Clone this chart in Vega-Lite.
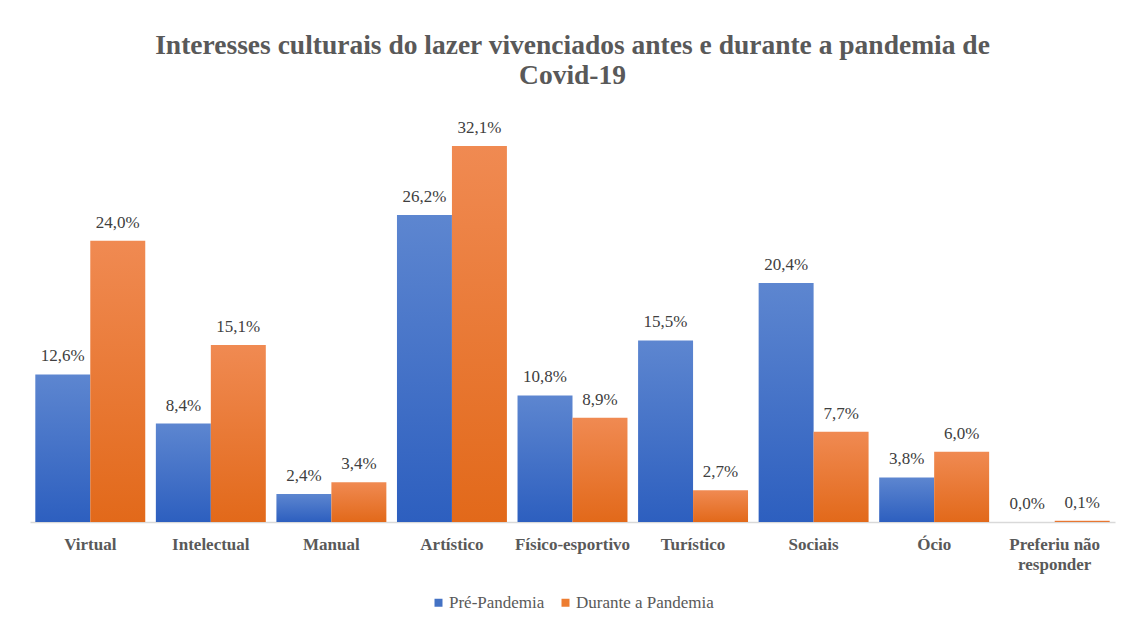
{
  "$schema": "https://vega.github.io/schema/vega-lite/v6.json",
  "width": 1085,
  "height": 410,
  "autosize": {"type": "none"},
  "padding": {"left": 30, "top": 112, "right": 13, "bottom": 99},
  "background": "white",
  "config": {
    "view": {"stroke": null},
    "font": "Liberation Serif",
    "locale": {"number": {"decimal": ",", "thousands": ".", "grouping": [3], "currency": ["R$", ""]}}
  },
  "title": {
    "text": ["Interesses culturais do lazer vivenciados antes e durante a pandemia de", "Covid-19"],
    "font": "Liberation Serif",
    "fontSize": 27.5,
    "fontWeight": "bold",
    "color": "#595959",
    "anchor": "middle",
    "lineHeight": 30,
    "offset": 23
  },
  "data": {
    "values": [
      {"categoria": "Virtual", "serie": "Pré-Pandemia", "valor": 0.126},
      {"categoria": "Virtual", "serie": "Durante a Pandemia", "valor": 0.240},
      {"categoria": "Intelectual", "serie": "Pré-Pandemia", "valor": 0.084},
      {"categoria": "Intelectual", "serie": "Durante a Pandemia", "valor": 0.151},
      {"categoria": "Manual", "serie": "Pré-Pandemia", "valor": 0.024},
      {"categoria": "Manual", "serie": "Durante a Pandemia", "valor": 0.034},
      {"categoria": "Artístico", "serie": "Pré-Pandemia", "valor": 0.262},
      {"categoria": "Artístico", "serie": "Durante a Pandemia", "valor": 0.321},
      {"categoria": "Físico-esportivo", "serie": "Pré-Pandemia", "valor": 0.108},
      {"categoria": "Físico-esportivo", "serie": "Durante a Pandemia", "valor": 0.089},
      {"categoria": "Turístico", "serie": "Pré-Pandemia", "valor": 0.155},
      {"categoria": "Turístico", "serie": "Durante a Pandemia", "valor": 0.027},
      {"categoria": "Sociais", "serie": "Pré-Pandemia", "valor": 0.204},
      {"categoria": "Sociais", "serie": "Durante a Pandemia", "valor": 0.077},
      {"categoria": "Ócio", "serie": "Pré-Pandemia", "valor": 0.038},
      {"categoria": "Ócio", "serie": "Durante a Pandemia", "valor": 0.060},
      {"categoria": "Preferiu não responder", "serie": "Pré-Pandemia", "valor": 0.0},
      {"categoria": "Preferiu não responder", "serie": "Durante a Pandemia", "valor": 0.001}
    ]
  },
  "encoding": {
    "x": {
      "field": "categoria",
      "type": "nominal",
      "sort": null,
      "scale": {"paddingInner": 0.088, "paddingOuter": 0.044},
      "axis": {
        "title": null,
        "labelAngle": 0,
        "ticks": false,
        "domainColor": "#d9d9d9",
        "domainWidth": 1.5,
        "labelFont": "Liberation Serif",
        "labelFontSize": 17,
        "labelFontWeight": "bold",
        "labelColor": "#595959",
        "labelPadding": 14,
        "labelLineHeight": 20,
        "labelExpr": "datum.value == 'Preferiu não responder' ? ['Preferiu não', 'responder'] : datum.value"
      }
    },
    "xOffset": {
      "field": "serie",
      "type": "nominal",
      "scale": {"domain": ["Pré-Pandemia", "Durante a Pandemia"], "paddingInner": 0, "paddingOuter": 0}
    },
    "y": {
      "field": "valor",
      "type": "quantitative",
      "scale": {"domain": [0, 0.35], "nice": false},
      "axis": null
    }
  },
  "layer": [
    {
      "transform": [{"filter": "datum.serie == 'Pré-Pandemia'"}],
      "mark": {
        "type": "bar",
        "color": {
          "gradient": "linear", "x1": 0, "y1": 0, "x2": 0, "y2": 1,
          "stops": [{"offset": 0, "color": "#5d86d0"}, {"offset": 1, "color": "#2d5fbf"}]
        }
      }
    },
    {
      "transform": [{"filter": "datum.serie == 'Durante a Pandemia'"}],
      "mark": {
        "type": "bar",
        "color": {
          "gradient": "linear", "x1": 0, "y1": 0, "x2": 0, "y2": 1,
          "stops": [{"offset": 0, "color": "#f08a52"}, {"offset": 1, "color": "#e2691a"}]
        }
      }
    },
    {
      "mark": {
        "type": "text",
        "font": "Liberation Serif",
        "fontSize": 17,
        "color": "#404040",
        "baseline": "bottom",
        "dy": -9
      },
      "encoding": {
        "text": {"field": "valor", "type": "quantitative", "format": ".1%"}
      }
    },
    {
      "mark": {"type": "bar", "opacity": 0},
      "encoding": {
        "color": {
          "field": "serie",
          "type": "nominal",
          "scale": {"domain": ["Pré-Pandemia", "Durante a Pandemia"], "range": ["#4472c4", "#ed7d31"]},
          "legend": {
            "title": null,
            "orient": "none",
            "legendX": 400,
            "legendY": 482,
            "direction": "horizontal",
            "symbolType": "square",
            "symbolSize": 64,
            "symbolOpacity": 1,
            "symbolStrokeWidth": 0,
            "labelFont": "Liberation Serif",
            "labelFontSize": 17,
            "labelColor": "#595959",
            "columnPadding": 12,
            "labelOffset": 2
          }
        }
      }
    }
  ]
}
